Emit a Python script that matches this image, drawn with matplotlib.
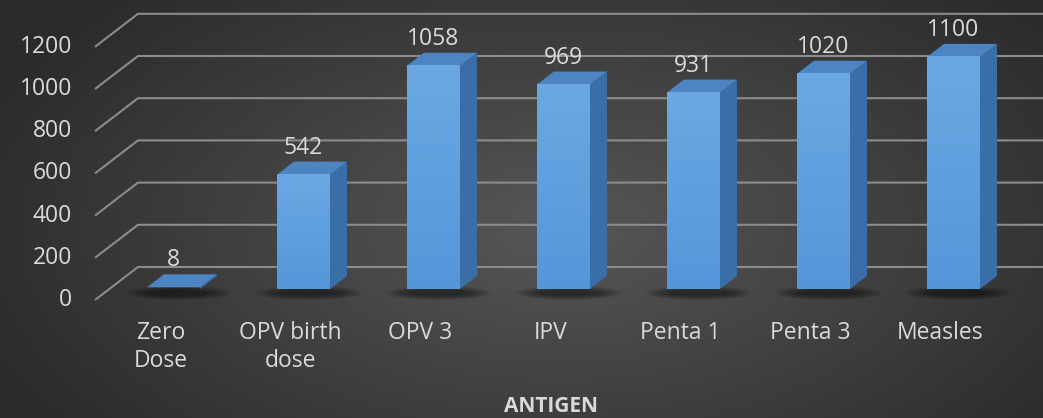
import numpy as np
import matplotlib.pyplot as plt
from matplotlib.patches import Polygon, Ellipse

# data
categories = ["Zero\nDose", "OPV birth\ndose", "OPV 3", "IPV", "Penta 1", "Penta 3", "Measles"]
values = [8, 542, 1058, 969, 931, 1020, 1100]
yticks = [0, 200, 400, 600, 800, 1000, 1200]
xlabel = "ANTIGEN"

W, H = 1043, 418
PX_X = 130.0      # pixels per category
PX_V = 0.211      # pixels per value unit
X0 = 173.5        # pixel x of first bar centre
BASE = 289.0      # pixel y (from top) of bar base
FONT = "Open Sans"
TXT = "#dadada"
FS = 16.5


def px_x(p):
    return p / PX_X


def px_v(p):
    return p / PX_V


fig = plt.figure(figsize=(W / 100, H / 100), dpi=100)
ax = fig.add_axes([0, 0, 1, 1])
xmin, xmax = -X0 / PX_X, (W - X0) / PX_X
ymin, ymax = -(H - BASE) / PX_V, BASE / PX_V
ax.axis("off")

# radial background
gx, gy = np.meshgrid(np.linspace(0, W, 300), np.linspace(0, H, 120))
r = np.sqrt(((gx - 560) / 620) ** 2 + ((gy - 230) / 330) ** 2)
shade = np.clip(0.34 - 0.17 * r, 0.17, 0.34)
bg = np.dstack([shade, shade, shade])
ax.imshow(bg, extent=(xmin, xmax, ymin, ymax), origin="upper", aspect="auto",
          zorder=0, interpolation="bilinear")

# depth geometry
bw = px_x(26.5)
ddx, ddy = px_x(17), px_v(13)
front_x, front_y = px_x(95 - X0), -px_v(11)
back_x, back_y = px_x(138 - X0), px_v(22)

grid_c = "#8c8c8c"
for v in yticks:
    ax.plot([front_x, back_x, xmax], [v + front_y, v + back_y, v + back_y],
            color=grid_c, lw=1.5, zorder=1, solid_capstyle="butt")
    ax.text(px_x(72 - X0), v + front_y, str(v), ha="right", va="center",
            color=TXT, fontsize=FS, family=FONT)

# soft shadows at the bar bases
for i, v in enumerate(values):
    for k in range(6):
        ax.add_patch(Ellipse((i + ddx * 0.3, -px_v(4)), px_x(105 - 9 * k), px_v(14 - 1.6 * k),
                             facecolor="black", edgecolor="none", alpha=0.09, zorder=2))

front_grad = np.linspace(0, 1, 50)[:, None]
top_rgb = np.array([0.42, 0.66, 0.89])
bot_rgb = np.array([0.33, 0.59, 0.85])
grad = front_grad[..., None] * top_rgb + (1 - front_grad[..., None]) * bot_rgb
grad = np.repeat(grad, 2, axis=1)

for i, v in enumerate(values):
    l, rr = i - bw, i + bw
    side = [(rr, 0), (rr + ddx, ddy), (rr + ddx, v + ddy), (rr, v)]
    top = [(l, v), (rr, v), (rr + ddx, v + ddy), (l + ddx, v + ddy)]
    ax.add_patch(Polygon(side, closed=True, facecolor="#3a6ea6", edgecolor="none", zorder=3))
    ax.add_patch(Polygon(top, closed=True, facecolor="#4d85c2", edgecolor="none", zorder=4))
    if v > 20:
        ax.imshow(grad, extent=(l, rr, 0, v), origin="lower", aspect="auto",
                  zorder=5, interpolation="bilinear")
    ax.text(i, v + ddy + px_v(8), str(v), ha="center", va="baseline",
            color=TXT, fontsize=FS, family=FONT)
    ax.text(i - 0.1, -px_v(32), categories[i], ha="center", va="top",
            color=TXT, fontsize=FS, family=FONT, linespacing=1.2)

ax.set_xlim(xmin, xmax)
ax.set_ylim(ymin, ymax)
ax.text(px_x(551 - X0), -px_v(118), xlabel, ha="center", va="center",
        color=TXT, fontsize=15, family=FONT, fontweight="bold")

fig.savefig("out.png", dpi=100)
